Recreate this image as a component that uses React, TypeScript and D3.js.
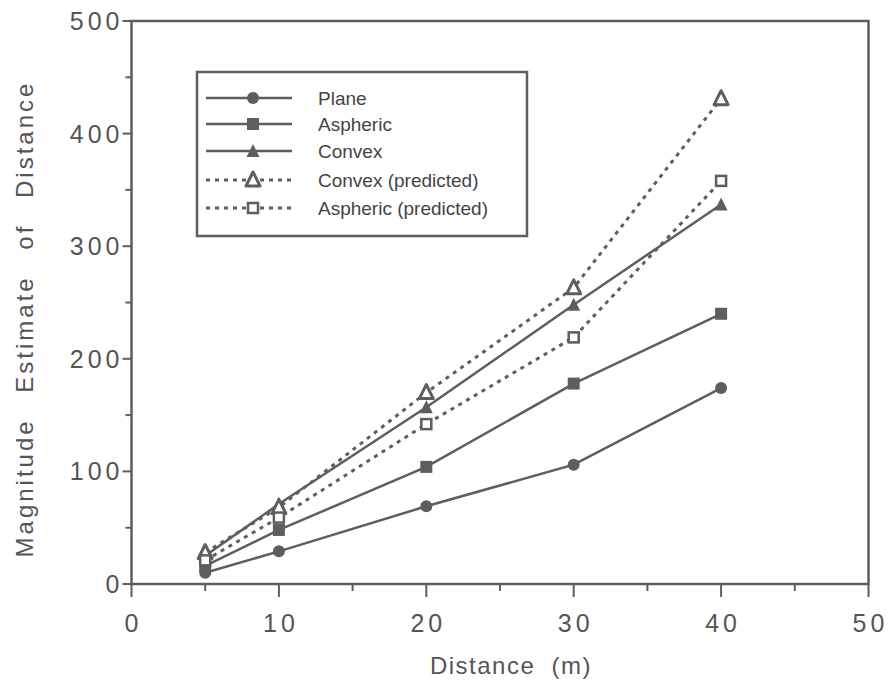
import { useRef, useEffect } from "react";
import * as d3 from "d3";

const distances = [5, 10, 20, 30, 40];
const plane = [10, 29, 69, 106, 174];
const aspheric = [16, 48, 104, 178, 240];
const convex = [25, 71, 157, 248, 337];
const convexPredicted = [28, 68, 170, 263, 431];
const asphericPredicted = [21, 59, 142, 219, 358];
const xTicks = [0, 10, 20, 30, 40, 50];
const yTicks = [0, 100, 200, 300, 400, 500];

const seriesNames = ["Plane", "Aspheric", "Convex", "Convex (predicted)", "Aspheric (predicted)"];
const seriesValues = [plane, aspheric, convex, convexPredicted, asphericPredicted];
const seriesMarkers = ["circle", "square", "triangle", "openTriangle", "openSquare"];
const seriesDashed = [false, false, false, true, true];

const GRAY = "#5e5e5e";
const TEXT = "#555";

function drawMarker(g, type, x, y) {
  if (type === "circle") {
    g.append("circle").attr("cx", x).attr("cy", y).attr("r", 6).attr("fill", GRAY);
  } else if (type === "square") {
    g.append("rect").attr("x", x - 6).attr("y", y - 6).attr("width", 12).attr("height", 12).attr("fill", GRAY);
  } else if (type === "triangle") {
    g.append("path").attr("d", `M${x},${y - 7}L${x + 6.5},${y + 6}L${x - 6.5},${y + 6}Z`).attr("fill", GRAY);
  } else if (type === "openTriangle") {
    g.append("path")
      .attr("d", `M${x},${y - 8}L${x + 7},${y + 6}L${x - 7},${y + 6}Z`)
      .attr("fill", "white").attr("stroke", GRAY).attr("stroke-width", 3).attr("stroke-linejoin", "round");
  } else {
    g.append("rect").attr("x", x - 5).attr("y", y - 5).attr("width", 10).attr("height", 10)
      .attr("fill", "white").attr("stroke", GRAY).attr("stroke-width", 2.5);
  }
}

const Chart = () => {
  const svgRef = useRef(null);
  useEffect(() => {
    const svg = d3.select(svgRef.current);
    svg.selectAll("*").remove();
    const left = 131.5, right = 868.5, top = 21, bottom = 584;
    const x = d3.scaleLinear().domain([0, 50]).range([left, right]);
    const y = d3.scaleLinear().domain([0, 500]).range([bottom, top]);
    const font = "'Liberation Sans', Arial, Helvetica, sans-serif";

    // frame
    svg.append("rect").attr("x", left).attr("y", top).attr("width", right - left).attr("height", bottom - top)
      .attr("fill", "none").attr("stroke", GRAY).attr("stroke-width", 2.5);

    // x axis ticks
    d3.range(0, 51, 5).forEach((v) => {
      const major = v % 10 === 0;
      svg.append("line").attr("x1", x(v)).attr("x2", x(v)).attr("y1", bottom).attr("y2", bottom + (major ? 13 : 7))
        .attr("stroke", GRAY).attr("stroke-width", 2);
    });
    xTicks.forEach((v) => {
      svg.append("text").attr("x", x(v) + 2).attr("y", bottom + 48).attr("text-anchor", "middle")
        .attr("font-family", font).attr("font-size", 25).attr("letter-spacing", 4).attr("fill", TEXT).text(v);
    });
    // y axis ticks
    d3.range(0, 501, 50).forEach((v) => {
      const major = v % 100 === 0;
      svg.append("line").attr("x1", left).attr("x2", left - (major ? 9 : 6)).attr("y1", y(v)).attr("y2", y(v))
        .attr("stroke", GRAY).attr("stroke-width", 2);
    });
    yTicks.forEach((v) => {
      svg.append("text").attr("x", left - 8).attr("y", y(v) + 9).attr("text-anchor", "end")
        .attr("font-family", font).attr("font-size", 25).attr("letter-spacing", 4).attr("fill", TEXT).text(v);
    });

    svg.append("text").attr("x", 511).attr("y", 674).attr("text-anchor", "middle")
      .attr("font-family", font).attr("font-size", 24).attr("letter-spacing", 1.5).attr("fill", TEXT)
      .attr("xml:space", "preserve")
      .text("Distance  (m)");
    svg.append("text").attr("transform", `translate(33,319) rotate(-90)`).attr("text-anchor", "middle")
      .attr("font-family", font).attr("font-size", 24).attr("letter-spacing", 3).attr("word-spacing", 16)
      .attr("fill", TEXT)
      .text("Magnitude Estimate of Distance");

    const line = d3.line().x((d) => x(d[0])).y((d) => y(d[1]));
    seriesValues.forEach((vals, i) => {
      const pts = distances.map((dd, j) => [dd, vals[j]]);
      svg.append("path").attr("d", line(pts)).attr("fill", "none").attr("stroke", GRAY)
        .attr("stroke-width", seriesDashed[i] ? 3 : 2.5)
        .attr("stroke-dasharray", seriesDashed[i] ? "4 5" : null);
    });
    seriesValues.forEach((vals, i) => {
      const g = svg.append("g");
      distances.forEach((dd, j) => drawMarker(g, seriesMarkers[i], x(dd), y(vals[j])));
    });

    // legend
    const lg = svg.append("g");
    lg.append("rect").attr("x", 197).attr("y", 72).attr("width", 330).attr("height", 164)
      .attr("fill", "white").attr("stroke", GRAY).attr("stroke-width", 2.5);
    const rowY = [98, 124, 151, 180, 208];
    seriesNames.forEach((name, i) => {
      lg.append("line").attr("x1", 206).attr("x2", 292).attr("y1", rowY[i]).attr("y2", rowY[i])
        .attr("stroke", GRAY).attr("stroke-width", seriesDashed[i] ? 3 : 2.5)
        .attr("stroke-dasharray", seriesDashed[i] ? "4 5" : null);
      drawMarker(lg, seriesMarkers[i], 253, rowY[i]);
      lg.append("text").attr("x", 318).attr("y", rowY[i] + 7).attr("font-family", font).attr("font-size", 19)
        .attr("fill", "#444").text(name);
    });
  }, []);
  return <svg ref={svgRef} width={890} height={686} style={{ position: "absolute", left: 0, top: 0 }}></svg>;
};

export default function App() {
  return <Chart />;
}
